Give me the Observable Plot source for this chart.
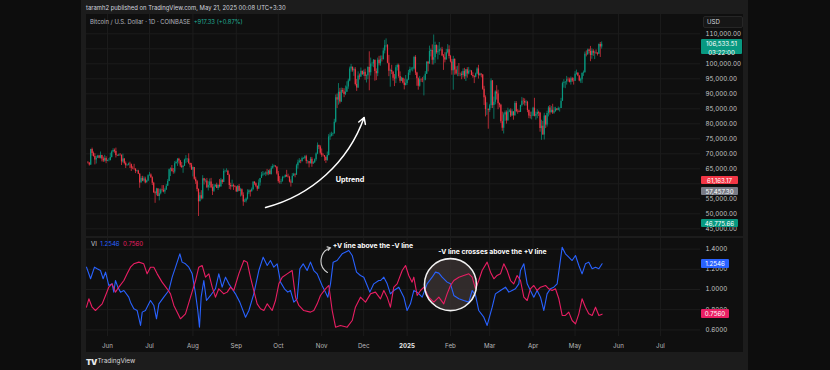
<!DOCTYPE html>
<html>
<head>
<meta charset="utf-8">
<script src="https://cdn.jsdelivr.net/npm/d3@7"></script>
<script src="https://cdn.jsdelivr.net/npm/@observablehq/plot@0.6"></script>
<style>
  html, body { margin:0; padding:0; }
  body { width:830px; height:370px; background:#0d0d0d; position:relative; overflow:hidden; font-family: Inter, "Noto Sans", sans-serif; }
  #card { position:absolute; left:81px; top:0; width:667px; height:370px; background:#1c1c1c; }
  .pane { position:absolute; left:86px; width:657px; background:#0f0f0f; }
  #price { top:14px; height:222px; }
  #vi { top:238px; height:114px; }
  .pane svg { display:block; overflow:visible; }
  .txt { position:absolute; white-space:nowrap; line-height:1; }
  .box { position:absolute; left:701px; color:#fff; font-size:6.2px; text-align:center; line-height:9px; border-radius:1px; }
</style>
</head>
<body>
<div id="card"></div>
<div id="price" class="pane"></div>
<div id="vi" class="pane"></div>
<div id="overlay"></div>
<script>
// ---------------- DATA ----------------
// Daily BTC/USD candles (in thousands of USD), one per day starting 2024-05-18
const firstOpen = 67.0;
const closes = [
  // May 18-31 2024
  66.9,66.3,71.4,70.1,69.1,67.9,68.5,69.3,68.5,69.4,68.3,67.6,68.4,67.5,
  // Jun
  67.8,67.8,68.8,70.6,71.1,70.8,69.4,69.3,69.6,69.5,67.3,68.3,66.8,66.0,66.2,66.6,66.5,65.2,65.0,64.9,64.1,64.3,63.2,60.3,61.8,60.9,61.6,60.3,60.9,62.7,
  // Jul
  62.9,62.0,60.2,57.0,56.7,58.3,55.8,56.7,57.9,57.8,57.3,57.9,59.2,60.8,64.7,65.0,64.1,63.9,66.7,67.1,68.2,67.6,65.9,65.4,65.8,67.9,68.3,68.3,66.8,66.2,64.6,
  // Aug
  65.4,61.5,60.7,58.1,54.0,56.0,55.0,61.7,60.9,60.9,58.7,59.4,60.6,58.7,57.5,58.9,59.5,58.4,59.5,59.0,61.2,60.4,64.1,64.2,64.2,62.8,59.4,59.0,59.4,59.1,58.9,
  // Sep
  57.3,59.1,57.5,58.0,56.2,53.9,54.2,54.9,57.0,57.6,57.3,58.1,60.6,60.0,59.2,58.2,60.3,61.8,62.9,63.2,63.3,63.6,63.3,64.3,63.1,65.2,65.8,65.9,65.6,63.3,
  // Oct
  60.8,60.6,60.8,62.1,62.1,62.8,62.3,62.2,60.6,60.3,62.5,63.2,62.9,66.0,67.0,67.6,67.4,68.4,68.4,69.0,67.4,67.4,66.7,68.2,66.6,67.0,68.0,69.9,72.7,72.3,70.2,
  // Nov
  69.5,69.4,68.8,67.8,69.4,75.6,75.9,76.5,76.7,80.5,88.7,87.9,90.5,87.3,91.1,90.6,89.8,90.5,92.3,94.3,98.3,98.9,97.7,98.0,93.1,91.9,95.9,95.6,97.5,96.4,
  // Dec
  97.2,95.8,96.0,98.8,97.0,99.9,99.9,101.2,97.4,96.7,101.2,100.0,101.5,101.4,104.3,106.0,106.1,100.2,97.5,97.8,97.3,95.2,94.9,98.7,99.4,95.8,94.2,95.2,93.6,92.8,93.4,
  // Jan 2025
  94.6,96.9,98.1,98.2,98.3,102.1,96.9,95.0,92.5,94.7,94.6,94.5,94.5,96.5,100.5,99.9,104.1,104.4,101.2,102.0,106.1,103.7,104.0,104.7,104.7,102.6,102.0,101.3,103.7,104.7,102.4,
  // Feb
  100.6,97.7,101.4,97.9,96.6,96.6,96.5,96.5,96.1,97.4,95.7,98.0,96.6,97.5,97.6,96.1,95.8,95.5,96.6,98.3,96.1,96.6,96.3,91.5,88.7,84.7,84.7,84.4,
  // Mar
  86.0,94.3,86.1,87.2,90.6,89.9,86.7,86.2,80.7,78.5,82.9,83.7,81.0,83.9,84.3,82.6,84.0,82.7,86.8,84.1,84.0,83.8,86.1,87.5,87.4,86.9,87.2,84.4,82.6,82.4,82.5,
  // Apr
  85.2,82.5,83.1,83.8,83.5,78.4,79.2,76.3,82.6,79.6,83.4,85.3,83.7,84.5,83.6,84.0,84.9,84.5,85.1,85.1,87.5,93.4,93.7,93.9,94.7,94.6,93.8,95.0,94.3,94.2,
  // May 1-20
  96.5,96.9,95.9,94.3,94.7,96.8,97.0,103.2,103.0,104.6,104.1,102.8,104.2,103.5,103.7,103.5,103.2,106.4,105.6,106.53
];
const highs = [
  67.4,67.0,71.5,71.9,70.6,70.0,69.2,69.5,69.5,70.6,69.5,68.9,69.5,69.0,
  67.9,68.4,70.2,71.0,71.7,71.6,71.9,69.6,69.9,70.1,69.6,69.9,68.4,67.3,66.4,66.9,67.2,66.1,65.7,66.5,65.0,64.5,64.5,63.4,62.4,62.5,62.3,62.2,61.2,63.0,
  63.8,63.3,62.3,60.5,57.5,58.5,58.4,58.2,58.3,59.4,59.4,58.5,59.8,61.4,64.9,65.3,66.1,65.1,67.4,67.6,68.4,68.5,67.8,67.1,66.1,68.2,69.4,68.4,70.0,66.9,66.8,
  65.6,65.0,62.2,61.1,58.3,57.0,57.7,62.7,61.8,61.5,61.8,60.7,61.6,61.8,59.8,59.8,59.7,60.2,59.6,61.4,61.8,61.4,64.9,64.5,65.0,64.5,63.2,60.2,61.2,59.9,59.4,
  59.0,59.4,59.8,58.5,58.3,57.0,54.8,55.3,58.0,58.0,57.9,58.6,60.6,60.6,60.3,59.2,61.3,61.8,63.8,64.1,63.6,64.0,64.8,64.5,64.8,65.8,66.5,66.2,66.0,65.6,
  64.1,62.4,61.5,62.5,62.4,63.0,64.5,63.2,62.5,61.3,63.4,63.5,63.3,66.5,67.9,68.4,67.9,68.9,68.7,69.4,69.5,67.8,67.4,68.8,68.8,67.4,68.3,70.3,73.6,72.9,72.7,
  71.6,70.0,69.4,69.0,70.6,76.4,76.9,77.2,76.9,81.5,89.6,89.9,93.4,91.8,91.9,91.8,91.7,92.6,94.0,94.9,98.9,99.8,98.8,98.6,98.7,94.8,97.3,96.6,98.6,97.5,
  97.9,98.2,96.3,99.0,104.0,101.9,100.5,101.4,101.2,98.3,101.9,102.5,102.6,102.6,105.2,107.8,108.3,106.4,102.8,98.2,99.5,97.3,96.4,99.4,99.9,99.9,97.3,95.5,95.2,94.9,96.1,
  94.9,97.8,98.9,98.7,98.8,102.5,102.7,97.2,95.3,95.8,95.0,95.4,95.9,97.4,100.7,100.8,105.9,104.9,106.3,109.6,107.2,106.3,106.0,107.1,105.2,105.5,103.1,103.7,104.8,106.4,106.0,
  102.8,101.5,102.5,101.7,99.0,99.2,100.1,96.9,97.3,98.3,98.5,98.1,98.7,98.8,97.9,97.7,97.0,96.0,96.9,98.7,99.5,96.9,96.6,96.4,92.5,89.3,87.0,85.0,
  86.5,95.0,94.4,88.9,91.0,92.7,91.2,86.9,86.5,83.9,83.6,84.3,84.3,85.2,84.7,85.0,84.7,83.9,87.4,87.4,84.7,84.5,86.2,88.8,88.5,88.3,87.8,87.5,84.6,83.9,83.9,
  85.5,88.5,83.9,84.7,84.2,83.8,81.2,80.8,83.5,82.7,84.2,85.8,86.1,85.8,86.5,85.5,85.5,85.1,85.6,85.3,88.5,93.9,94.7,94.0,95.8,95.3,95.2,95.6,95.4,95.2,
  97.4,97.9,96.9,96.0,95.2,97.0,97.6,103.9,104.3,104.9,104.9,105.8,105.0,104.7,104.2,104.6,103.7,106.6,107.1,107.3
];
const lows = [
  66.6,65.9,66.1,69.2,68.9,66.3,66.6,68.5,68.3,68.3,67.3,67.1,67.2,66.7,
  67.4,67.3,67.6,68.6,70.3,70.2,68.6,69.2,69.1,69.2,66.1,66.9,66.3,65.1,65.9,66.0,65.1,64.1,64.7,64.5,63.4,63.9,63.2,58.5,60.3,60.7,60.6,60.0,60.4,60.7,
  62.5,61.8,59.4,56.8,53.5,56.0,55.7,54.3,56.3,57.2,57.0,56.5,57.8,59.2,60.7,62.4,63.9,63.2,63.3,66.6,65.8,66.6,65.4,65.1,63.5,65.8,66.7,67.1,66.5,65.3,64.5,
  62.3,61.2,59.8,57.3,49.1,54.0,54.6,54.7,59.6,60.3,58.4,57.6,58.5,58.4,56.1,57.1,58.8,58.4,57.8,58.6,58.8,59.8,60.4,63.6,63.8,62.8,58.1,57.9,58.8,57.8,58.7,
  57.2,57.2,57.4,55.6,55.7,52.5,53.7,53.6,54.6,56.4,55.6,57.4,57.7,59.5,58.7,57.5,58.3,59.2,61.8,62.4,62.8,62.4,62.7,62.7,62.9,62.9,64.8,65.4,65.3,62.9,
  60.2,59.9,59.8,60.5,61.7,62.0,62.2,61.9,60.3,58.9,60.1,62.4,62.0,62.8,64.9,66.8,66.7,67.2,68.1,68.0,66.6,66.6,65.3,66.6,65.5,66.5,66.8,67.5,69.7,71.4,69.6,
  68.8,69.0,67.5,66.8,67.5,69.3,74.5,75.6,75.8,76.5,80.2,85.1,86.2,86.6,87.1,90.1,88.7,89.4,90.5,91.5,94.0,97.2,97.2,95.8,92.6,90.8,91.8,94.6,95.4,96.1,
  95.8,94.5,93.6,94.7,91.0,95.9,99.0,98.7,94.2,94.4,95.7,99.3,99.2,100.6,101.2,103.3,105.3,100.0,95.7,92.2,96.4,94.2,92.4,93.4,97.6,95.2,93.5,94.1,93.3,91.3,92.6,
  92.8,94.4,96.1,97.6,97.3,97.9,96.1,92.5,91.2,92.2,93.8,93.7,89.3,94.3,96.5,97.3,99.9,102.3,99.6,99.6,100.1,103.2,101.3,102.8,104.2,102.5,97.8,100.3,101.3,103.3,101.6,
  100.3,96.2,91.2,96.2,96.2,95.7,95.7,95.7,94.7,95.3,94.8,94.1,95.2,96.3,97.2,96.0,95.2,93.4,95.3,96.4,94.9,95.8,95.3,91.2,86.1,82.3,82.8,78.2,
  83.8,85.1,85.1,81.5,86.3,87.9,84.7,85.3,80.1,77.5,76.6,80.8,79.9,80.8,83.7,82.1,82.5,81.2,82.5,83.7,83.2,83.7,83.8,85.6,86.3,85.9,85.9,83.7,81.7,81.6,81.3,
  82.4,82.3,81.2,81.7,82.4,77.2,74.5,76.2,74.6,78.4,78.9,82.3,82.9,83.6,83.1,83.2,83.9,84.3,84.3,83.9,85.1,87.5,91.9,91.7,92.9,93.9,93.6,92.9,93.8,92.9,
  94.1,96.2,95.7,94.0,93.5,93.4,95.8,96.9,102.3,102.8,103.3,100.7,101.5,102.5,101.4,103.1,102.6,103.1,102.1,104.9
];

// Vortex Indicator (14) — sample days counted from 2024-05-17, values
const viPlusDay = [0,2.9,5.7,7.6,10,11.9,13.6,15.9,18.3,19.5,20.7,22.4,24.3,26.7,30.2,31.4,33.8,36.2,38.6,39.8,42.1,45.7,48.1,50,51.7,55.2,58.8,61.2,63.6,66.7,68.3,70.7,73.1,75.5,77.9,79.5,80.7,81.9,83.8,85.7,88.6,92.1,94.5,96.9,99.3,101.7,104,106.4,109.5,113.6,116,119.5,123.1,126.2,129.1,131.4,133.8,136.2,138.6,141.4,143.8,145.7,148.1,150.5,152.4,154.8,157.6,160,162.4,164.8,168.3,170.7,172.4,174.3,176.2,179,182.6,187.4,189.8,192.9,195.7,198.1,200.5,202.4,205.2,208.8,
  210,212.4,214.8,217.1,219.5,223.1,226.7,229,231.4,233.8,236.2,239.8,243.3,246.9,249.3,251.7,254,257.6,260,262.4,266,269.5,273.1,275.5,277.9,280.2,283.8,286.2,289.8,292.1,295.7,299.3,301.7,304,306.4,308.8,310,312.4,314.8,317.1,319.5,321.9,324.3,326.7,329,331.4,333.8,336.2,339.8,342.1,344.5,346.9,349.3,351.7,354,356.4,358.8,361.2,363.6,366,368.3];
const viPlusVal = [1.221,1.106,1.221,1.205,1.188,1.106,1.172,1.040,1.056,0.974,1.089,1.023,0.974,0.990,0.924,0.875,0.809,0.792,0.644,0.776,0.792,0.891,0.842,0.710,0.858,0.924,0.990,1.122,1.221,1.353,1.271,1.254,1.221,1.155,0.957,0.792,0.627,0.924,1.089,0.891,0.941,1.007,1.155,1.023,1.122,1.056,1.007,0.957,0.875,0.726,0.792,0.957,1.188,1.320,1.238,1.287,1.221,1.254,1.073,1.007,0.974,0.990,0.875,0.908,1.205,1.254,1.188,1.271,1.188,1.155,1.040,0.974,0.924,1.056,1.271,1.287,1.353,1.386,1.337,1.172,1.139,1.122,1.040,0.974,1.056,1.089,
  1.089,1.122,1.056,0.957,0.990,1.023,0.924,0.792,0.858,0.990,0.974,0.924,1.056,1.122,1.172,1.162,1.122,1.073,1.056,0.941,0.908,0.891,0.875,0.990,0.941,0.792,0.726,0.644,0.825,0.957,0.990,1.023,0.974,0.990,1.007,1.056,1.188,1.254,1.056,0.990,0.924,0.990,0.924,0.792,0.957,1.007,1.023,1.056,1.419,1.353,1.320,1.287,1.337,1.238,1.155,1.254,1.271,1.205,1.221,1.205,1.2546];
const viMinusDay = [0,1.7,4,6.4,8.8,11.2,13.6,15.9,18.3,20.7,23.1,26.7,29,31.4,33.8,37.4,40.9,43.3,45.7,48.1,50.5,54,57.6,60,62.4,64.8,67.1,70.7,74.3,77.9,80.2,82.6,85,87.4,89.8,92.1,94.5,98.1,100.5,102.9,105.2,108.8,112.4,114.8,117.1,119.5,121.9,124.3,126.7,129.1,132.6,135,137.4,139.8,143.3,146.9,149.3,151.7,155.2,160,162.4,164.8,167.1,170.7,173.1,175.5,177.9,181.4,186.2,189.8,192.1,195.7,199.3,202.9,206.4,
  210,212.4,214.8,217.1,219.5,221.9,225.5,227.9,230.2,232.6,233.8,236.2,238.6,241,244.5,248.1,251.7,255.2,257.6,260,262.4,266,269.5,273.1,275.5,277.9,280.2,282.6,286.2,288.6,291,293.3,295.7,298.1,300.5,302.9,305.2,307.6,310,312.4,314.8,317.1,319.5,321.9,324.3,327.9,330.2,332.6,335,337.4,339.8,342.1,344.5,346.9,349.3,351.7,354,356.4,358.8,361.2,363.6,366,368.3];
const viMinusVal = [0.825,0.908,0.825,0.792,0.825,0.858,0.941,1.023,1.056,0.974,1.023,1.089,1.155,1.221,1.254,1.271,1.254,1.155,1.221,1.221,1.155,1.073,1.007,0.957,0.842,0.776,0.710,0.759,0.924,1.089,1.221,1.238,1.122,1.155,1.023,0.924,1.007,0.957,0.974,1.023,0.990,1.155,1.287,1.271,1.122,0.990,0.858,0.809,0.792,0.858,0.792,0.891,1.056,1.122,1.155,1.188,0.924,0.842,0.792,0.776,0.792,0.858,0.941,1.007,1.040,0.792,0.627,0.644,0.627,0.693,0.825,0.924,0.875,0.957,0.974,
  0.908,0.990,0.924,0.825,1.023,1.056,1.188,1.238,1.139,1.073,1.122,0.941,0.990,1.023,0.924,0.875,0.924,0.858,0.957,1.040,1.089,1.122,1.139,1.155,1.122,1.007,1.089,1.188,1.271,1.172,1.106,1.139,1.155,1.254,1.188,1.089,1.056,1.139,1.089,0.924,0.891,1.007,1.040,0.990,1.023,1.040,1.007,0.990,1.007,0.908,0.743,0.743,0.776,0.693,0.660,0.759,0.908,0.825,0.759,0.743,0.825,0.743,0.7560];

// Axis ticks and labels
const priceTicks = [45000,50000,55000,60000,65000,70000,75000,80000,85000,90000,95000,100000,105000,110000];
// price labels that remain visible (60,000 and 105,000 sit under the coloured price tags)
const priceLabelTicks = [45000,50000,55000,65000,70000,75000,80000,85000,90000,95000,100000,110000];
const viTicks = [0.6,0.8,1.0,1.2,1.4];
const monthTickDates = ["2024-06-01","2024-07-01","2024-08-01","2024-09-01","2024-10-01","2024-11-01","2024-12-01","2025-01-01","2025-02-01","2025-03-01","2025-04-01","2025-05-01","2025-06-01","2025-07-01"];
const monthLabels = ["Jun","Jul","Aug","Sep","Oct","Nov","Dec","2025","Feb","Mar","Apr","May","Jun","Jul"];

// Price-scale markers
const lastPrice = 106533.51, countdown = "03:22:00";
const priceLevels = [
  {value: 61163.17, color: "#f23645"},
  {value: 57457.30, color: "#787b86"},
  {value: 46775.66, color: "#089981"}
];
const viPlusLast = 1.2546, viMinusLast = 0.7560;
const change = 917.33, changePct = 0.87;

// Annotations (data coordinates: day offset from 2024-05-17, price or VI value)
const uptrendArrow = [{d1: 127.9, p1: 52100, d2: 198.3, p2: 82100}];
const uptrendLabel = [{d: 188.2, p: 61400, text: "Uptrend"}];
const viArrow = [{d1: 172.1, v1: 1.168, d2: 174.4, v2: 1.414}];
const viNoteStart = [{d: 175.9, v: 1.436, text: "+V line above the -V line"}];
const viNoteMid = [{d: 290, v: 1.376, text: "-V line crosses above the +V line"}];
const viCircle = [{d: 260, v: 1.048}];

// ---------------- CHART ----------------
const UP = "#089981", DOWN = "#f23645";
const BLUE = "#2962ff", PINK = "#e91e63";
const GRID = "#1c1c1c";
const FONT = "Inter, 'Noto Sans', sans-serif";
const t0 = Date.UTC(2024, 4, 17);
const day = d => new Date(t0 + d * 864e5);
const xDomain = [day(0), day(438.6)];
const monthTicks = monthTickDates.map(s => new Date(s + "T00:00:00Z"));
const labelOf = new Map(monthTicks.map((d, i) => [+d, monthLabels[i]]));

const candles = closes.map((c, i) => {
  const o = i === 0 ? firstOpen : closes[i - 1];
  return {date: day(i + 1), open: o * 1000, close: c * 1000, high: highs[i] * 1000, low: lows[i] * 1000, up: c >= o};
});

const priceChart = Plot.plot({
  width: 657, height: 222,
  marginLeft: 0, marginRight: 43, marginTop: 0, marginBottom: 0,
  style: {background: "transparent", color: "#c8c8c8", fontFamily: FONT, overflow: "visible"},
  x: {type: "utc", domain: xDomain, axis: null},
  y: {domain: [42433, 116433], axis: null},
  marks: [
    Plot.gridX(monthTicks, {stroke: GRID, strokeOpacity: 1}),
    Plot.gridY(priceTicks, {stroke: GRID, strokeOpacity: 1}),
    Plot.axisY(priceLabelTicks, {anchor: "right", tickSize: 0, tickPadding: 5, tickFormat: d3.format(",.2f"), fontSize: 6.2, fill: "#c8c8c8", label: null}),
    Plot.ruleX(candles, {x: "date", y1: "low", y2: "high", stroke: d => d.up ? UP : DOWN, strokeWidth: 0.7}),
    Plot.ruleX(candles, {x: "date", y1: "open", y2: "close", stroke: d => d.up ? UP : DOWN, strokeWidth: 1.2}),
    Plot.arrow(uptrendArrow, {x1: d => day(d.d1), y1: "p1", x2: d => day(d.d2), y2: "p2", bend: -28, stroke: "#ffffff", strokeWidth: 1.5, headLength: 7}),
    Plot.text(uptrendLabel, {x: d => day(d.d), y: "p", text: "text", fill: "#ffffff", fontWeight: "bold", fontSize: 7.2})
  ]
});
document.getElementById("price").append(priceChart);

const viPlusData = viPlusDay.map((d, i) => ({date: day(d), v: viPlusVal[i]}));
const viMinusData = viMinusDay.map((d, i) => ({date: day(d), v: viMinusVal[i]}));
const jan = monthTicks.filter(d => labelOf.get(+d) === "2025");
const others = monthTicks.filter(d => labelOf.get(+d) !== "2025");

const viChart = Plot.plot({
  width: 657, height: 114,
  marginLeft: 0, marginRight: 43, marginTop: 0, marginBottom: 16,
  style: {background: "transparent", color: "#c8c8c8", fontFamily: FONT, overflow: "visible"},
  x: {type: "utc", domain: xDomain, axis: null},
  y: {domain: [0.5347, 1.505], axis: null},
  marks: [
    Plot.gridX(monthTicks, {stroke: GRID, strokeOpacity: 1}),
    Plot.gridY(viTicks, {stroke: GRID, strokeOpacity: 1}),
    Plot.axisX(others, {anchor: "bottom", tickSize: 0, tickPadding: 7, tickFormat: d => labelOf.get(+d), fontSize: 6.2, fill: "#b8b8b8", label: null}),
    Plot.axisX(jan, {anchor: "bottom", tickSize: 0, tickPadding: 7, tickFormat: d => labelOf.get(+d), fontSize: 6.2, fontWeight: "bold", fill: "#e8e8e8", label: null}),
    Plot.axisY(viTicks, {anchor: "right", tickSize: 0, tickPadding: 5, tickFormat: d3.format(".4f"), fontSize: 6.2, fill: "#c8c8c8", label: null}),
    Plot.dot(viCircle, {x: d => day(d.d), y: "v", r: 26, fill: "#3a3232", fillOpacity: 0.8}),
    Plot.line(viPlusData, {x: "date", y: "v", stroke: BLUE, strokeWidth: 1.1}),
    Plot.line(viMinusData, {x: "date", y: "v", stroke: PINK, strokeWidth: 1.1}),
    Plot.dot(viCircle, {x: d => day(d.d), y: "v", r: 26, fill: "none", stroke: "#f2f2f2", strokeWidth: 1.6}),
    Plot.arrow(viArrow, {x1: d => day(d.d1), y1: "v1", x2: d => day(d.d2), y2: "v2", bend: 65, stroke: "#d0d0d0", strokeWidth: 1.1, headLength: 5}),
    Plot.text(viNoteStart, {x: d => day(d.d), y: "v", text: "text", textAnchor: "start", fill: "#ffffff", fontWeight: "bold", fontSize: 6.8}),
    Plot.text(viNoteMid, {x: d => day(d.d), y: "v", text: "text", textAnchor: "middle", fill: "#ffffff", fontWeight: "bold", fontSize: 6.8})
  ]
});
document.getElementById("vi").append(viChart);

// ---------------- HTML text & price-scale tags ----------------
const ov = document.getElementById("overlay");
function addText(left, top, size, color, html, extra = "") {
  const el = document.createElement("div");
  el.className = "txt";
  el.style.cssText = `left:${left}px;top:${top}px;font-size:${size}px;color:${color};${extra}`;
  el.innerHTML = html;
  ov.append(el);
  return el;
}
function addBox(top, width, height, bg, html) {
  const el = document.createElement("div");
  el.className = "box";
  el.style.cssText = `top:${top}px;width:${width}px;height:${height}px;background:${bg};`;
  el.innerHTML = html;
  ov.append(el);
}
const fmt2 = d3.format(",.2f"), fmt4 = d3.format(".4f");

addText(86, 4.5, 5.9, "#d1d4dc", "taramh2 published on TradingView.com, May 21, 2025 00:08 UTC+3:30");
addText(90, 18.5, 5.9, "#b2b5be", `Bitcoin / U.S. Dollar · 1D · COINBASE&nbsp; <span style="color:#22ab94">+${fmt2(change)} (+${changePct.toFixed(2)}%)</span>`);
addText(91, 241, 6.1, "#d1d4dc", `VI&nbsp; <span style="color:${BLUE}">${fmt4(viPlusLast)}</span>&nbsp; <span style="color:${PINK}">${fmt4(viMinusLast)}</span>`);

// USD box
addText(703, 16, 6.1, "#d1d4dc", "USD", "width:35px;height:10px;line-height:10px;padding-left:3px;background:#161616;border:1px solid #262626;border-radius:2px;box-sizing:content-box;");

// footer logo
addText(86, 357.5, 8, "#e8e8e8", "TV", "font-weight:900;letter-spacing:-0.6px;");
addText(97.5, 358, 6.4, "#d8d8d8", "TradingView");

const py = priceChart.scale("y"), vy = viChart.scale("y");
addBox(14 + py.apply(lastPrice) - 4.3, 41, 15, UP, `${fmt2(lastPrice)}<br><span style="line-height:6px">${countdown}</span>`);
priceLevels.forEach(l => addBox(14 + py.apply(l.value) - 4.3, 37, 8.6, l.color, fmt2(l.value)));
addBox(238 + vy.apply(viPlusLast) - 4.3, 28, 8.6, BLUE, fmt4(viPlusLast));
addBox(238 + vy.apply(viMinusLast) - 4.3, 28, 8.6, PINK, fmt4(viMinusLast));
</script>
</body>
</html>
